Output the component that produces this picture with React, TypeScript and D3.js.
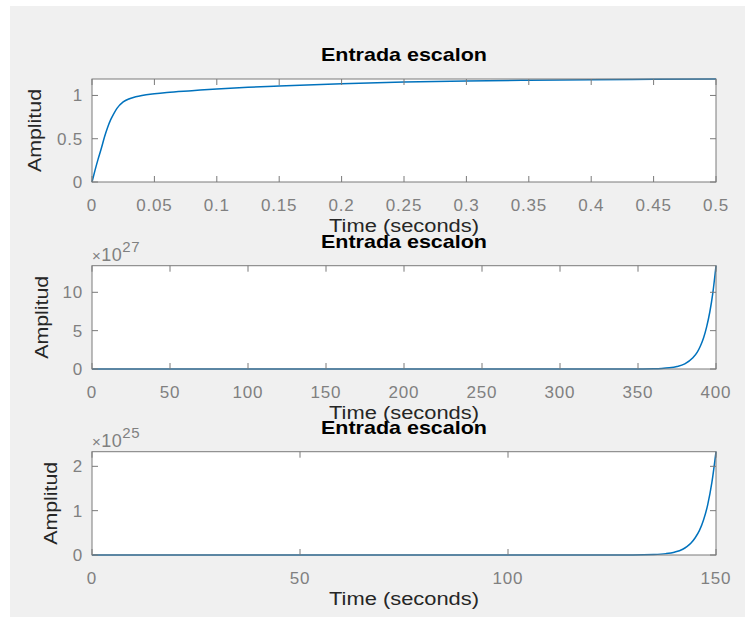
import React from "react";
import * as d3 from "d3";

// ---------- data ----------
const t1 = [0, 0.0025, 0.005, 0.0075, 0.01, 0.0125, 0.015, 0.0175, 0.02, 0.025, 0.03, 0.035, 0.04, 0.05, 0.06, 0.08, 0.1, 0.125, 0.15, 0.2, 0.25, 0.3, 0.35, 0.4, 0.45, 0.5];
const y1 = [0, 0.14, 0.27, 0.39, 0.52, 0.63, 0.72, 0.79, 0.85, 0.925, 0.962, 0.984, 1.0, 1.02, 1.035, 1.055, 1.075, 1.095, 1.11, 1.135, 1.155, 1.168, 1.176, 1.182, 1.186, 1.19];

// amplitude in units of 1e27
const t2 = [0, 100, 200, 300, 340, 350, 360, 365, 370, 375, 380, 385, 388, 390, 392, 394, 396, 398, 400];
const y2 = [0, 0, 0, 0, 0.0017, 0.0075, 0.033, 0.07, 0.15, 0.32, 0.67, 1.42, 2.2, 3.0, 4.05, 5.5, 7.4, 9.97, 13.47];

// amplitude in units of 1e25
const t3 = [0, 50, 100, 120, 130, 135, 138, 140, 142, 143, 144, 145, 146, 147, 148, 149, 150];
const y3 = [0, 0, 0, 0, 0.0017, 0.011, 0.031, 0.064, 0.13, 0.19, 0.27, 0.39, 0.55, 0.79, 1.13, 1.63, 2.33];

const xTicks1 = [0, 0.05, 0.1, 0.15, 0.2, 0.25, 0.3, 0.35, 0.4, 0.45, 0.5];
const xTicks2 = [0, 50, 100, 150, 200, 250, 300, 350, 400];
const xTicks3 = [0, 50, 100, 150];
const yTicks1 = [0, 0.5, 1];
const yTicks2 = [0, 5, 10];
const yTicks3 = [0, 1, 2];

const titleText = "Entrada escalon";
const xLabelText = "Time (seconds)";
const yLabelText = "Amplitud";

const panels = [
  { t: t1, y: y1, xDomain: [0, 0.5], yDomain: [0, 1.19], xTicks: xTicks1, yTicks: yTicks1, exp: null as string | null, top: 79, bottom: 182, yLabelX: 41 },
  { t: t2, y: y2, xDomain: [0, 400], yDomain: [0, 13.47], xTicks: xTicks2, yTicks: yTicks2, exp: "27", top: 265.7, bottom: 369, yLabelX: 48 },
  { t: t3, y: y3, xDomain: [0, 150], yDomain: [0, 2.33], xTicks: xTicks3, yTicks: yTicks3, exp: "25", top: 451.7, bottom: 555, yLabelX: 57 },
];

const LEFT = 92;
const RIGHT = 716;
const FONT = "'Liberation Sans', Arial, Helvetica, sans-serif";
const TICK_COLOR = "#808080";
const BOX_COLOR = "#7a7a7a";
const LABEL_COLOR = "#262626";
const LINE_COLOR = "#0072BD";

const fmt = (v: number) => String(+v.toFixed(3));

function Panel({ p }: { p: (typeof panels)[number] }) {
  const x = d3.scaleLinear().domain(p.xDomain).range([LEFT, RIGHT]);
  const y = d3.scaleLinear().domain(p.yDomain).range([p.bottom, p.top]);
  const data = p.t.map((tv, i) => [tv, p.y[i]] as [number, number]);
  const line = d3
    .line<[number, number]>()
    .x((d) => x(d[0]))
    .y((d) => y(d[1]))
    .curve(d3.curveMonotoneX);
  const tl = 6;
  const cx = (LEFT + RIGHT) / 2;
  const cy = (p.top + p.bottom) / 2;
  return (
    <g>
      <rect x={LEFT} y={p.top} width={RIGHT - LEFT} height={p.bottom - p.top} fill="#ffffff" />
      <path d={line(data) || ""} fill="none" stroke={LINE_COLOR} strokeWidth={1.5} />
      {/* box */}
      <rect x={LEFT} y={p.top} width={RIGHT - LEFT} height={p.bottom - p.top} fill="none" stroke={BOX_COLOR} strokeWidth={1} />
      {/* x ticks */}
      {p.xTicks.map((v) => (
        <g key={"x" + v}>
          <line x1={x(v)} x2={x(v)} y1={p.bottom} y2={p.bottom - tl} stroke={BOX_COLOR} />
          <line x1={x(v)} x2={x(v)} y1={p.top} y2={p.top + tl} stroke={BOX_COLOR} />
          <text x={x(v)} y={p.bottom + 29} textAnchor="middle" fontSize={17} letterSpacing={0.8} fill={TICK_COLOR} fontFamily={FONT}>
            {fmt(v)}
          </text>
        </g>
      ))}
      {/* y ticks */}
      {p.yTicks.map((v) => (
        <g key={"y" + v}>
          <line x1={LEFT} x2={LEFT + tl} y1={y(v)} y2={y(v)} stroke={BOX_COLOR} />
          <line x1={RIGHT} x2={RIGHT - tl} y1={y(v)} y2={y(v)} stroke={BOX_COLOR} />
          <text x={83} y={y(v) + 6} textAnchor="end" fontSize={17} letterSpacing={0.8} fill={TICK_COLOR} fontFamily={FONT}>
            {fmt(v)}
          </text>
        </g>
      ))}
      {p.exp && (
        <text x={92} y={p.top - 5} fontSize={18} fill={TICK_COLOR} fontFamily={FONT} letterSpacing={0.5}>
          <tspan fontSize={15}>×</tspan>
          <tspan>10</tspan>
          <tspan dy={-9} fontSize={15}>{p.exp}</tspan>
        </text>
      )}
      {/* x label */}
      <text x={cx} y={p.bottom + 50} textAnchor="middle" fontSize={18} textLength={150} lengthAdjust="spacingAndGlyphs" fill={LABEL_COLOR} fontFamily={FONT}>
        {xLabelText}
      </text>
      {/* y label */}
      <text
        transform={`translate(${p.yLabelX},${cy}) rotate(-90)`}
        textAnchor="middle"
        fontSize={18}
        textLength={83}
        lengthAdjust="spacingAndGlyphs"
        fill={LABEL_COLOR}
        fontFamily={FONT}
      >
        {yLabelText}
      </text>
      {/* title */}
      <text x={cx} y={p.top - 18} textAnchor="middle" fontSize={19} fontWeight="bold" textLength={166} lengthAdjust="spacingAndGlyphs" fill="#000000" fontFamily={FONT}>
        {titleText}
      </text>
    </g>
  );
}

export default function App() {
  return (
    <svg width={745} height={617} style={{ position: "absolute", left: 0, top: 0 }}>
      <rect x={0} y={0} width={745} height={617} fill="#ffffff" />
      <rect x={10} y={6} width={735} height={611} fill="#f0f0f0" />
      {panels.map((p, i) => (
        <Panel key={i} p={p} />
      ))}
    </svg>
  );
}
